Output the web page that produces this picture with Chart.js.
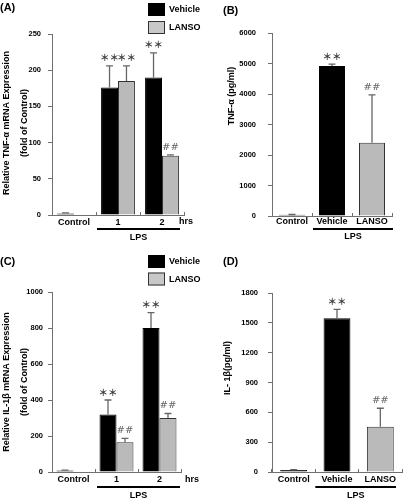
<!DOCTYPE html>
<html><head><meta charset="utf-8">
<script src="https://cdn.jsdelivr.net/npm/chart.js@4/dist/chart.umd.min.js"></script>
<style>
html,body{margin:0;padding:0;background:#fff;}
body{width:403px;height:500px;position:relative;overflow:hidden;}
canvas{position:absolute;}
</style></head><body>
<canvas id="cA" width="215" height="250" style="left:0;top:0;width:215px;height:250px"></canvas>
<canvas id="cB" width="203" height="250" style="left:200px;top:0;width:203px;height:250px"></canvas>
<canvas id="cC" width="215" height="250" style="left:0;top:250px;width:215px;height:250px"></canvas>
<canvas id="cD" width="203" height="250" style="left:200px;top:250px;width:203px;height:250px"></canvas>
<script>
// ---------- data ----------
const groupsMrna = ['Control', '1', '2'];
const groupsProtein = ['Control', 'Vehicle', 'LANSO'];
const seriesNames = ['Vehicle', 'LANSO'];
const lpsLabel = 'LPS';
const hrsLabel = 'hrs';

const tnfMrnaVehicle   = [2, 176, 190];
const tnfMrnaVehicleSD = [1, 30, 34];
const tnfMrnaLanso     = [null, 185, 82];
const tnfMrnaLansoSD   = [null, 21, 1];
const tnfMrnaVehicleSig = ['', '**', '**'];
const tnfMrnaLansoSig   = ['', '**', '##'];
const tnfMrnaTicks = [0, 50, 100, 150, 200, 250];

const tnfProtein    = [40, 4920, 2400];
const tnfProteinSD  = [10, 60, 1570];
const tnfProteinSig = ['', '**', '##'];
const tnfProteinTicks = [0, 1000, 2000, 3000, 4000, 5000, 6000];

const il1bMrnaVehicle   = [8, 320, 800];
const il1bMrnaVehicleSD = [2, 80, 85];
const il1bMrnaLanso     = [null, 165, 300];
const il1bMrnaLansoSD   = [null, 22, 25];
const il1bMrnaVehicleSig = ['', '**', '**'];
const il1bMrnaLansoSig   = ['', '##', '##'];
const il1bMrnaTicks = [0, 200, 400, 600, 800, 1000];

const il1bProtein    = [20, 1545, 455];
const il1bProteinSD  = [3, 90, 186];
const il1bProteinSig = ['', '**', '##'];
const il1bProteinTicks = [0, 300, 600, 900, 1200, 1500, 1800];

// ---------- styles ----------
Chart.defaults.font.family = '"Liberation Sans", Arial, sans-serif';
Chart.defaults.font.weight = 'bold';
Chart.defaults.color = '#000';
const AXIS_GRAY = '#707070';
const VEH_FILL = '#000000';
const LAN_FILL = '#bababa';
const LAN_BORDER = '#333333';

function yScale(ticksArr, width, pad) {
  return {
    min: ticksArr[0], max: ticksArr[ticksArr.length - 1],
    afterBuildTicks: s => { s.ticks = ticksArr.map(v => ({ value: v })); },
    afterFit: s => { s.width = width; },
    grid: { drawOnChartArea: false, drawTicks: true, tickLength: 4, color: AXIS_GRAY, lineWidth: 1 },
    border: { display: true, color: AXIS_GRAY, width: 1 },
    ticks: { font: { size: 7.5, weight: 'bold' }, color: '#000', padding: pad, autoSkip: false,
             callback: v => String(v) }
  };
}
function xScale(pad) {
  return {
    afterFit: s => { s.height = 20; },
    grid: { drawOnChartArea: false, drawTicks: true, tickLength: -3, color: AXIS_GRAY, offset: true, lineWidth: 1 },
    border: { display: true, color: AXIS_GRAY, width: 1 },
    ticks: { font: { size: 9, weight: 'bold' }, color: '#000', padding: pad, autoSkip: false, maxRotation: 0 }
  };
}

function makeFig(cfg) {
  return {
    id: 'fig',
    afterDatasetsDraw(chart) {
      const ctx = chart.ctx, ys = chart.scales.y;
      chart.data.datasets.forEach((ds, di) => {
        const meta = chart.getDatasetMeta(di);
        meta.data.forEach((bar, i) => {
          const v = ds.data[i];
          if (v == null) return;
          const e = (ds.errors && ds.errors[i]) || 0;
          const topPx = ys.getPixelForValue(v + e);
          if (e) {
            ctx.save();
            ctx.strokeStyle = '#666'; ctx.lineWidth = 1.3;
            ctx.beginPath();
            ctx.moveTo(bar.x, bar.y); ctx.lineTo(bar.x, topPx);
            ctx.moveTo(bar.x - 3.5, topPx); ctx.lineTo(bar.x + 3.5, topPx);
            ctx.stroke();
            ctx.restore();
          }
          const m = ds.marks && ds.marks[i];
          if (m) {
            ctx.save();
            ctx.textAlign = 'center'; ctx.textBaseline = 'middle';
            if (m[0] === '*') {
              ctx.font = 'bold 9.5px "Noto Sans CJK JP"'; ctx.fillStyle = '#3a3a3a';
              ctx.fillText(m.replace(/\*/g, '＊'), bar.x, topPx - 8);
            } else {
              ctx.font = '10px "DejaVu Serif"'; ctx.fillStyle = '#666';
              ctx.fillText(m, bar.x, topPx - 8);
            }
            ctx.restore();
          }
        });
      });
    },
    afterDraw(chart) {
      const ctx = chart.ctx, xs = chart.scales.x, area = chart.chartArea;
      ctx.save();
      ctx.fillStyle = '#000';
      ctx.textBaseline = 'middle';
      ctx.font = 'bold 11px "Liberation Sans", Arial';
      ctx.textAlign = 'left';
      ctx.fillText(cfg.panel.text, cfg.panel.x, cfg.panel.y);
      ctx.font = 'bold 9px "Liberation Sans", Arial';
      ctx.textAlign = 'center';
      cfg.yTitle.forEach(t => {
        ctx.save(); ctx.translate(t.x, t.y); ctx.rotate(-Math.PI / 2);
        ctx.fillText(t.text, 0, 0); ctx.restore();
      });
      if (cfg.hrs) {
        ctx.textAlign = 'left';
        ctx.fillText(hrsLabel, cfg.hrs.x, area.bottom + cfg.hrs.dy);
      }
      const cw = xs.getPixelForValue(1) - xs.getPixelForValue(0);
      const x1 = xs.getPixelForValue(1) - cw / 2 + cfg.lps.insetL;
      const x2 = xs.getPixelForValue(2) + cw / 2 - cfg.lps.insetR;
      ctx.strokeStyle = '#000'; ctx.lineWidth = 2;
      ctx.beginPath();
      ctx.moveTo(x1, area.bottom + cfg.lps.lineDy); ctx.lineTo(x2, area.bottom + cfg.lps.lineDy);
      ctx.stroke();
      ctx.textAlign = 'center';
      ctx.fillText(lpsLabel, (x1 + x2) / 2, area.bottom + cfg.lps.textDy);
      if (cfg.legend) {
        const L = cfg.legend;
        chart.data.datasets.forEach((ds, di) => {
          const by = L.y + di * L.gap;
          ctx.fillStyle = di === 0 ? ds.backgroundColor : '#c8c8c8';
          ctx.fillRect(L.x, by, 17, 13);
          ctx.strokeStyle = ds.borderColor; ctx.lineWidth = 1;
          ctx.strokeRect(L.x + 0.5, by + 0.5, 16, 12);
          ctx.fillStyle = '#000'; ctx.textAlign = 'left';
          ctx.fillText(ds.label, L.x + 21, by + 7);
        });
      }
      ctx.restore();
    }
  };
}

function baseOptions(padding, ys, xs) {
  return {
    responsive: false, animation: false, events: [],
    layout: { padding },
    plugins: { legend: { display: false }, tooltip: { enabled: false }, title: { display: false } },
    scales: { x: xs, y: ys }
  };
}

// ---------- (A) ----------
new Chart(document.getElementById('cA'), {
  type: 'bar',
  data: {
    labels: groupsMrna,
    datasets: [
      { label: seriesNames[0], data: tnfMrnaVehicle, errors: tnfMrnaVehicleSD, marks: tnfMrnaVehicleSig,
        backgroundColor: VEH_FILL, borderColor: '#000', borderWidth: 1, categoryPercentage: 0.77, barPercentage: 1 },
      { label: seriesNames[1], data: tnfMrnaLanso, errors: tnfMrnaLansoSD, marks: tnfMrnaLansoSig,
        backgroundColor: LAN_FILL, borderColor: LAN_BORDER, borderWidth: 1, categoryPercentage: 0.77, barPercentage: 1 }
    ]
  },
  options: baseOptions({ left: 0, top: 34, right: 31, bottom: 15 }, yScale(tnfMrnaTicks, 52, 7), xScale(5)),
  plugins: [makeFig({
    panel: { text: '(A)', x: 0, y: 8 },
    yTitle: [{ text: 'Relative TNF-α mRNA Expression', x: 6.5, y: 123 },
             { text: '(fold of Control)', x: 24.5, y: 123 }],
    hrs: { x: 179, dy: 7 },
    lps: { insetL: 1, insetR: 4, lineDy: 14, textDy: 22.5 },
    legend: { x: 148, y: 3, gap: 18 }
  })]
});

// ---------- (B) ----------
new Chart(document.getElementById('cB'), {
  type: 'bar',
  data: {
    labels: groupsProtein,
    datasets: [
      { label: 'TNF-α', data: tnfProtein, errors: tnfProteinSD, marks: tnfProteinSig,
        backgroundColor: [VEH_FILL, VEH_FILL, LAN_FILL], borderColor: ['#000', '#000', LAN_BORDER],
        borderWidth: 1, categoryPercentage: 0.65, barPercentage: 1 }
    ]
  },
  options: baseOptions({ left: 0, top: 33, right: 11, bottom: 14 }, yScale(tnfProteinTicks, 72, 12), xScale(3)),
  plugins: [makeFig({
    panel: { text: '(B)', x: 23, y: 11 },
    yTitle: [{ text: 'TNF-α (pg/ml)', x: 31.5, y: 96 }],
    lps: { insetL: 1, insetR: -1, lineDy: 13, textDy: 21 }
  })]
});

// ---------- (C) ----------
new Chart(document.getElementById('cC'), {
  type: 'bar',
  data: {
    labels: groupsMrna,
    datasets: [
      { label: seriesNames[0], data: il1bMrnaVehicle, errors: il1bMrnaVehicleSD, marks: il1bMrnaVehicleSig,
        backgroundColor: VEH_FILL, borderColor: '#000', borderWidth: 1, categoryPercentage: 0.79, barPercentage: 1 },
      { label: seriesNames[1], data: il1bMrnaLanso, errors: il1bMrnaLansoSD, marks: il1bMrnaLansoSig,
        backgroundColor: LAN_FILL, borderColor: LAN_BORDER, borderWidth: 1, categoryPercentage: 0.79, barPercentage: 1 }
    ]
  },
  options: baseOptions({ left: 0, top: 42, right: 34, bottom: 8 }, yScale(il1bMrnaTicks, 52, 5), xScale(5)),
  plugins: [makeFig({
    panel: { text: '(C)', x: 0, y: 12 },
    yTitle: [{ text: 'Relative IL-1β mRNA Expression', x: 6.5, y: 132 },
             { text: '(fold of Control)', x: 25, y: 132 }],
    hrs: { x: 185, dy: 8 },
    lps: { insetL: 2, insetR: 1, lineDy: 15, textDy: 24 },
    legend: { x: 148, y: 5, gap: 17.5 }
  })]
});

// ---------- (D) ----------
new Chart(document.getElementById('cD'), {
  type: 'bar',
  data: {
    labels: groupsProtein,
    datasets: [
      { label: 'IL-1β', data: il1bProtein, errors: il1bProteinSD, marks: il1bProteinSig,
        backgroundColor: [VEH_FILL, VEH_FILL, LAN_FILL], borderColor: ['#000', '#000', LAN_BORDER],
        borderWidth: 1, categoryPercentage: 0.62, barPercentage: 1 }
    ]
  },
  options: baseOptions({ left: 0, top: 43, right: 1, bottom: 8 }, yScale(il1bProteinTicks, 72, 10), xScale(5)),
  plugins: [makeFig({
    panel: { text: '(D)', x: 23, y: 12 },
    yTitle: [{ text: 'IL- 1β(pg/ml)', x: 28, y: 118 }],
    lps: { insetL: 0, insetR: 6, lineDy: 15, textDy: 24 }
  })]
});
</script>
</body></html>
